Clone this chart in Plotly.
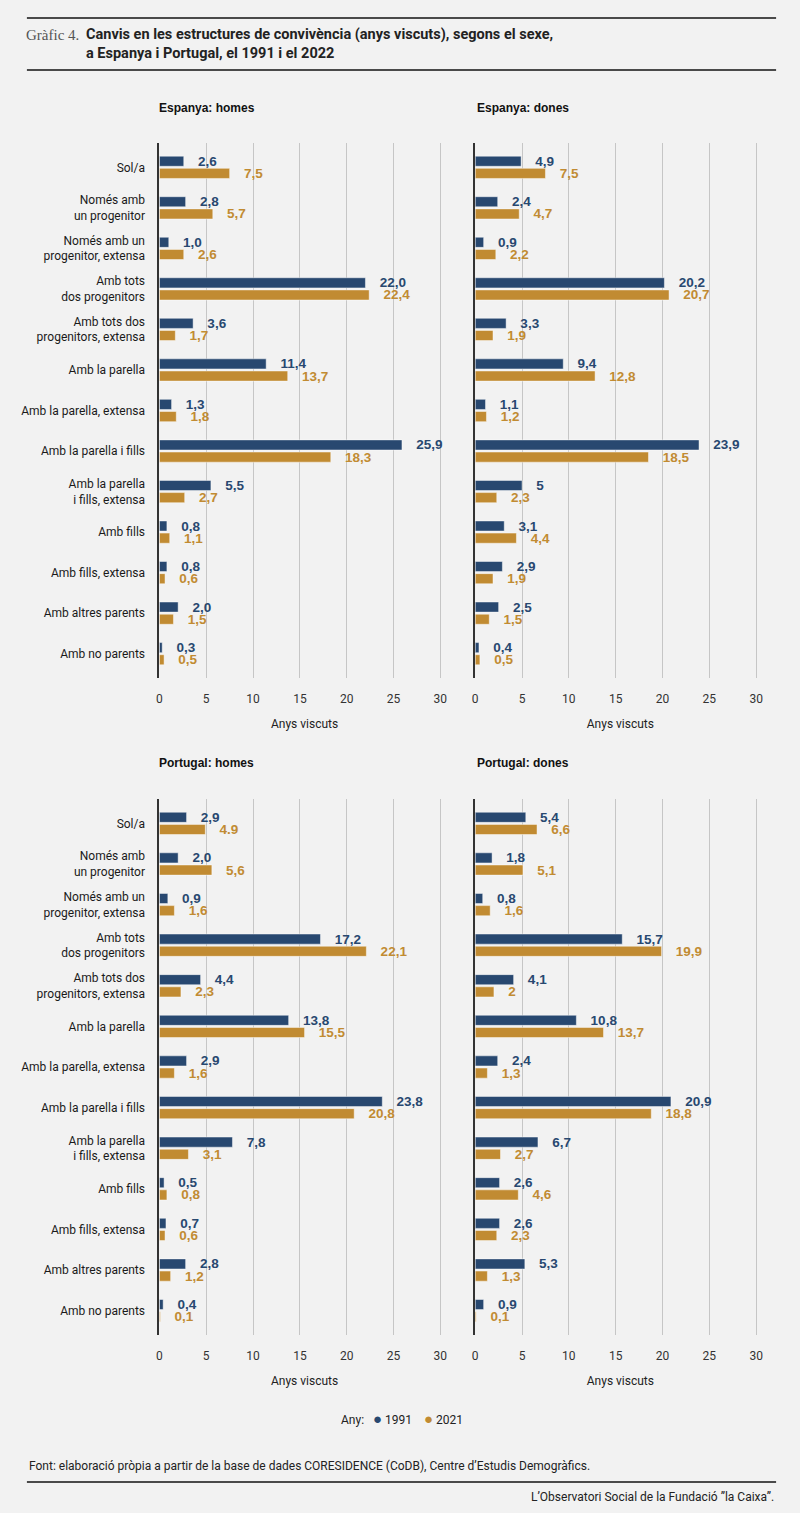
import plotly.graph_objects as go
from plotly.subplots import make_subplots

# categories (top to bottom)
categories = [
    "Sol/a", "Només amb<br>un progenitor", "Només amb un<br>progenitor, extensa",
    "Amb tots<br>dos progenitors", "Amb tots dos<br>progenitors, extensa",
    "Amb la parella", "Amb la parella, extensa", "Amb la parella i fills",
    "Amb la parella<br>i fills, extensa", "Amb fills", "Amb fills, extensa",
    "Amb altres parents", "Amb no parents",
]

# years lived
esp_homes_1991 = [2.6, 2.8, 1.0, 22.0, 3.6, 11.4, 1.3, 25.9, 5.5, 0.8, 0.8, 2.0, 0.3]
esp_homes_2021 = [7.5, 5.7, 2.6, 22.4, 1.7, 13.7, 1.8, 18.3, 2.7, 1.1, 0.6, 1.5, 0.5]
esp_dones_1991 = [4.9, 2.4, 0.9, 20.2, 3.3, 9.4, 1.1, 23.9, 5.0, 3.1, 2.9, 2.5, 0.4]
esp_dones_2021 = [7.5, 4.7, 2.2, 20.7, 1.9, 12.8, 1.2, 18.5, 2.3, 4.4, 1.9, 1.5, 0.5]
por_homes_1991 = [2.9, 2.0, 0.9, 17.2, 4.4, 13.8, 2.9, 23.8, 7.8, 0.5, 0.7, 2.8, 0.4]
por_homes_2021 = [4.9, 5.6, 1.6, 22.1, 2.3, 15.5, 1.6, 20.8, 3.1, 0.8, 0.6, 1.2, 0.1]
por_dones_1991 = [5.4, 1.8, 0.8, 15.7, 4.1, 10.8, 2.4, 20.9, 6.7, 2.6, 2.6, 5.3, 0.9]
por_dones_2021 = [6.6, 5.1, 1.6, 19.9, 2.0, 13.7, 1.3, 18.8, 2.7, 4.6, 2.3, 1.3, 0.1]

# labels printed differently in the original
label_overrides = {
    ("por_homes_2021", 0): "4.9",
    ("esp_dones_1991", 8): "5",
    ("por_dones_2021", 4): "2",
}

panel_titles = ["Espanya: homes", "Espanya: dones", "Portugal: homes", "Portugal: dones"]
years = ["1991", "2021"]

NAVY = "#284870"
GOLD = "#c18b32"
BG = "#f2f2f2"
W, H = 800, 1513
NARROW = "Liberation Sans Narrow, Roboto, sans-serif"
NB = "\u00a0"


def fmt(vals, name):
    out = []
    for i, v in enumerate(vals):
        s = label_overrides.get((name, i), f"{v:.1f}".replace(".", ","))
        out.append(NB * 3 + s)
    return out


panels = [
    (1, 1, ("esp_homes_1991", esp_homes_1991), ("esp_homes_2021", esp_homes_2021)),
    (1, 2, ("esp_dones_1991", esp_dones_1991), ("esp_dones_2021", esp_dones_2021)),
    (2, 1, ("por_homes_1991", por_homes_1991), ("por_homes_2021", por_homes_2021)),
    (2, 2, ("por_dones_1991", por_dones_1991), ("por_dones_2021", por_dones_2021)),
]

fig = make_subplots(rows=2, cols=2)

for r, c, s91, s21 in panels:
    for (name, vals), col, yr in ((s91, NAVY, years[0]), (s21, GOLD, years[1])):
        fig.add_trace(go.Bar(
            x=vals, y=categories, orientation="h", name=yr,
            marker=dict(color=col, line=dict(color="rgba(255,255,255,0.45)", width=1)),
            text=fmt(vals, name), textposition="outside", cliponaxis=False,
            constraintext="none",
            textfont=dict(family="Liberation Sans, Arial, sans-serif", size=13.5,
                          color=col, weight="bold"),
            showlegend=False, hoverinfo="skip",
        ), row=r, col=c)

px_per_unit = 9.4
xmax = 31
x_doms = [(157, 157 + xmax * px_per_unit), (474, 474 + xmax * px_per_unit)]
y_doms = [(143, 678), (799, 1335)]

for r in (1, 2):
    for c in (1, 2):
        x0, x1 = x_doms[c - 1]
        y0, y1 = y_doms[r - 1]
        fig.update_xaxes(
            domain=[x0 / W, x1 / W], range=[0, xmax], tick0=0, dtick=5,
            showgrid=True, gridcolor="#c6c6c6", gridwidth=1, zeroline=False,
            showline=False, ticks="", ticklabelstandoff=12,
            tickfont=dict(family="Roboto, sans-serif", size=12, color="#333"),
            title=dict(text="Anys viscuts", standoff=14,
                       font=dict(family="Roboto, sans-serif", size=12, color="#222")),
            row=r, col=c)
        fig.update_yaxes(
            domain=[1 - y1 / H, 1 - y0 / H], type="category",
            categoryorder="array", categoryarray=categories, range=[12.6, -0.6],
            showgrid=False, zeroline=False, showline=True, linecolor="#333",
            linewidth=2, ticks="", ticklabelstandoff=10,
            showticklabels=(c == 1),
            tickfont=dict(family="Roboto, sans-serif", size=12, color="#1a1a1a"),
            row=r, col=c)

annotations = []
# panel titles
for t, (x, y) in zip(panel_titles, [(155, 108), (474, 108), (155, 763), (474, 763)]):
    annotations.append(dict(text=f"<b>{t}</b>", x=x / W, y=1 - y / H, xref="paper", yref="paper",
                            xanchor="left", yanchor="middle", showarrow=False,
                            font=dict(family="Liberation Sans, Arial, sans-serif", size=12, color="#111")))

# chart header
annotations.append(dict(text="Gràfic 4.", x=21 / W, y=1 - 35 / H, xref="paper", yref="paper",
                        xanchor="left", yanchor="middle", showarrow=False,
                        font=dict(family="Liberation Serif, serif", size=15, color="#555")))
annotations.append(dict(
    text="<b>Canvis en les estructures de convivència (anys viscuts), segons el sexe,</b><br>"
         "<b>a Espanya i Portugal, el 1991 i el 2022</b>",
    x=81 / W, y=1 - 43.5 / H, xref="paper", yref="paper", xanchor="left", yanchor="middle",
    align="left", showarrow=False,
    font=dict(family=NARROW, size=14.5, color="#222")))

# legend line: "Any: ● 1991 ● 2021"
legend_text = "Any:" + NB * 3 + (NB * 4).join(
    f"<span style='color:{col};font-size:15px'>●</span>{NB}{yr}" for yr, col in zip(years, (NAVY, GOLD)))
annotations.append(dict(text=legend_text, x=401 / W, y=1 - 1419 / H, xref="paper", yref="paper",
                        xanchor="center", yanchor="middle", showarrow=False,
                        font=dict(family="Roboto, sans-serif", size=12, color="#222")))

# source and footer
annotations.append(dict(
    text="Font: elaboració pròpia a partir de la base de dades CORESIDENCE (CoDB), Centre d’Estudis Demogràfics.",
    x=24 / W, y=1 - 1466 / H, xref="paper", yref="paper", xanchor="left", yanchor="middle",
    showarrow=False, font=dict(family=NARROW, size=12, color="#222")))
annotations.append(dict(
    text="L’Observatori Social de la Fundació ”la Caixa”.",
    x=776 / W, y=1 - 1497 / H, xref="paper", yref="paper", xanchor="right", yanchor="middle",
    showarrow=False, font=dict(family=NARROW, size=12, color="#222")))

shapes = []
for y in (18, 70, 1482):
    shapes.append(dict(type="line", xref="paper", yref="paper", x0=24 / W, x1=776 / W,
                       y0=1 - y / H, y1=1 - y / H, line=dict(color="#4a4a4a", width=2)))

fig.update_layout(
    width=W, height=H, margin=dict(l=0, r=0, t=0, b=0),
    paper_bgcolor=BG, plot_bgcolor=BG,
    barmode="group", bargap=0.4, bargroupgap=0.17,
    annotations=annotations, shapes=shapes, showlegend=False,
    font=dict(family="Roboto, sans-serif", color="#222"),
)

fig.write_html("out.html", config={"displayModeBar": False}, post_script=(
    "document.body.style.margin='0';document.body.style.background='#f2f2f2';"))
